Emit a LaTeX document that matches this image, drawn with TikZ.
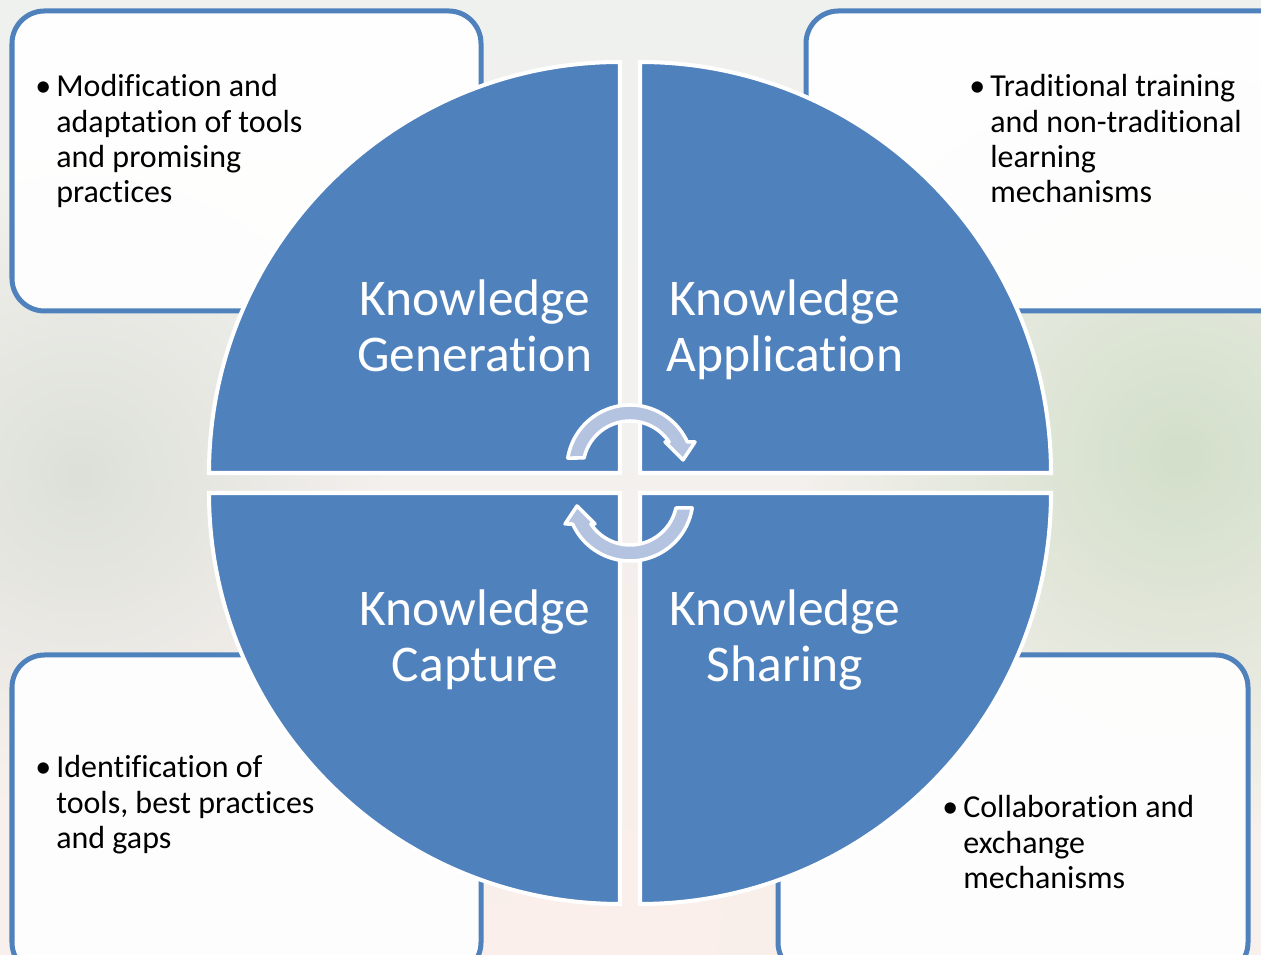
\documentclass[tikz,border=0pt]{standalone}
\usepackage{fontspec}
\setmainfont{Carlito}[Ligatures=NoCommon]
\usepackage{xcolor}
\usetikzlibrary{fadings}

\definecolor{kmblue}{HTML}{4F81BD}
\definecolor{arrowblue}{HTML}{B4C4E0}
\definecolor{bgtop}{HTML}{EFF1EE}
\definecolor{bgmid}{HTML}{E4E8E1}
\definecolor{bgbot}{HTML}{F8F0EC}
\definecolor{bggreen}{HTML}{D3DFCA}
\definecolor{bgpink}{HTML}{FBEFEA}
\definecolor{bggray}{HTML}{DDE0D9}

\tikzfading[name=softspot, inner color=transparent!0, outer color=transparent!100]
\newcommand{\blt}{\makebox[0.42cm][l]{\textbullet}}

\begin{document}
\begin{tikzpicture}[x=0.02cm, y=0.02cm,
        infobox/.style={draw=kmblue, line width=2.85pt, fill=white, fill opacity=0.93, rounded corners=0.65cm},
        quarter/.style={fill=kmblue, draw=white, line width=2.3pt},
        qlabel/.style={text=white, font=\fontsize{29.3}{32}\selectfont, align=center, anchor=base, inner sep=0pt},
        itemtext/.style={font=\fontsize{18.2}{20}\selectfont, anchor=base west, inner sep=0pt},
        cycarrow/.pic={
            \filldraw[fill=arrowblue, draw=white, line width=2pt, line join=round]
                (170.9:63) arc[start angle=170.9, end angle=24.4, radius=63]
                -- (65,26) -- (53,8) -- (35,26) -- (33.6:47)
                arc[start angle=33.6, end angle=167.7, radius=47] -- cycle;
        }
    ]
    \useasboundingbox (0,0) rectangle (1261,955);
    \clip (0,0) rectangle (1261,955);

    % blurred photo behind
    \shade[top color=bgtop, middle color=bgmid, bottom color=bgbot] (0,0) rectangle (1261,955);
    \fill[bggreen, path fading=softspot] (1180,500) circle (380);
    \fill[bggray, path fading=softspot] (80,480) circle (300);
    \fill[bgpink, path fading=softspot] (600,40) circle (360);

    % text boxes
    \draw[infobox] (12,644) rectangle (481,944);
    \draw[infobox] (806,644) rectangle (1300,944);
    \draw[infobox] (12,-20) rectangle (481,300);
    \draw[infobox] (778,-20) rectangle (1248,300);

    % four quarters
    \draw[quarter] (620,482) -- ++(-411,0) arc[start angle=180, end angle=90, radius=411] -- cycle;
    \draw[quarter] (640,482) -- ++(0,411) arc[start angle=90, end angle=0, radius=411] -- cycle;
    \draw[quarter] (620,462) -- ++(-411,0) arc[start angle=180, end angle=270, radius=411] -- cycle;
    \draw[quarter] (640,462) -- ++(411,0) arc[start angle=0, end angle=-90, radius=411] -- cycle;

    % cycle arrows
    \pic (toparrow) at (630,487) {cycarrow};
    \pic[rotate=180] (botarrow) at (630,457) {cycarrow};

    % quarter labels
    \node[qlabel] (gen) at (475,583) {Knowledge\\Generation};
    \node[qlabel] (app) at (785,583) {Knowledge\\Application};
    \node[qlabel] (cap) at (475,273) {Knowledge\\Capture};
    \node[qlabel] (sha) at (785,273) {Knowledge\\Sharing};

    % bullet texts
    \node[itemtext] (gentext) at (35,858) {\begin{tabular}[t]{@{}l@{}}\blt Modification and\\\hspace{0.42cm}adaptation of tools\\\hspace{0.42cm}and promising\\\hspace{0.42cm}practices\end{tabular}};
    \node[itemtext] (apptext) at (969,858) {\begin{tabular}[t]{@{}l@{}}\blt Traditional training\\\hspace{0.42cm}and non-traditional\\\hspace{0.42cm}learning\\\hspace{0.42cm}mechanisms\end{tabular}};
    \node[itemtext] (captext) at (35,177) {\begin{tabular}[t]{@{}l@{}}\blt Identification of\\\hspace{0.42cm}tools, best practices\\\hspace{0.42cm}and gaps\end{tabular}};
    \node[itemtext] (shatext) at (942,137) {\begin{tabular}[t]{@{}l@{}}\blt Collaboration and\\\hspace{0.42cm}exchange\\\hspace{0.42cm}mechanisms\end{tabular}};
\end{tikzpicture}
\end{document}
